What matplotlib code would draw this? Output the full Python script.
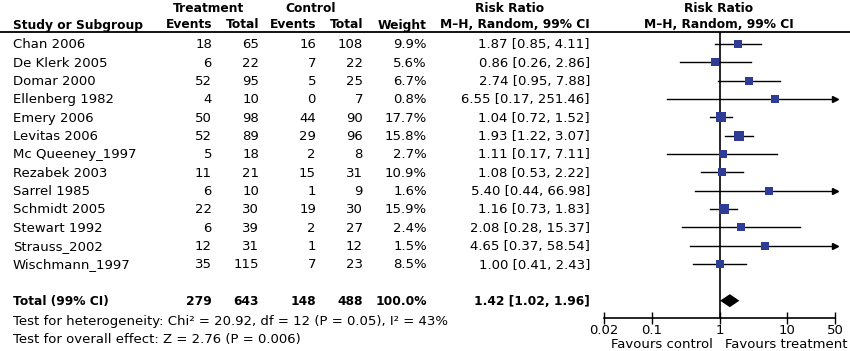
import numpy as np
import matplotlib
matplotlib.use("Agg")
import matplotlib.pyplot as plt

#######################################
# Data
#######################################
studies = ["Chan 2006", "De Klerk 2005", "Domar 2000", "Ellenberg 1982", "Emery 2006",
           "Levitas 2006", "Mc Queeney_1997", "Rezabek 2003", "Sarrel 1985",
           "Schmidt 2005", "Stewart 1992", "Strauss_2002", "Wischmann_1997"]
trt_events = [18, 6, 52, 4, 50, 52, 5, 11, 6, 22, 6, 12, 35]
trt_total = [65, 22, 95, 10, 98, 89, 18, 21, 10, 30, 39, 31, 115]
ctl_events = [16, 7, 5, 0, 44, 29, 2, 15, 1, 19, 2, 1, 7]
ctl_total = [108, 22, 25, 7, 90, 96, 8, 31, 9, 30, 27, 12, 23]
weights = [9.9, 5.6, 6.7, 0.8, 17.7, 15.8, 2.7, 10.9, 1.6, 15.9, 2.4, 1.5, 8.5]
rr = [1.87, 0.86, 2.74, 6.55, 1.04, 1.93, 1.11, 1.08, 5.40, 1.16, 2.08, 4.65, 1.00]
ci_lo = [0.85, 0.26, 0.95, 0.17, 0.72, 1.22, 0.17, 0.53, 0.44, 0.73, 0.28, 0.37, 0.41]
ci_hi = [4.11, 2.86, 7.88, 251.46, 1.52, 3.07, 7.11, 2.22, 66.98, 1.83, 15.37, 58.54, 2.43]

total_counts = [279, 643, 148, 488]
total_weight = "100.0%"
total_rr, total_lo, total_hi = 1.42, 1.02, 1.96

het_text = "Test for heterogeneity: Chi\u00b2 = 20.92, df = 12 (P = 0.05), I\u00b2 = 43%"
effect_text = "Test for overall effect: Z = 2.76 (P = 0.006)"

xticks = [0.02, 0.1, 1, 10, 50]
xtick_labels = ["0.02", "0.1", "1", "10", "50"]
x_min, x_max = 0.02, 50

#######################################
# Layout (pixel coordinates)
#######################################
W, H = 850, 351
row_y0, row_h = 43.8, 18.35
line_y = 32
axis_y = 318
fs = 9.5
fs_b = 8.8
blue = "#2E3C96"

plt.rcParams["font.family"] = ["DejaVu Sans"]

fig = plt.figure(figsize=(W / 100, H / 100), dpi=100)
ax = fig.add_axes([0, 0, 1, 1])
ax.set_xlim(0, W)
ax.set_ylim(H, 0)
ax.axis("off")

def txt(x, y, s, ha="left", bold=False):
    ax.text(x, y, s, ha=ha, va="center", fontsize=fs_b if bold else fs,
            fontweight="bold" if bold else "normal", color="black")

# Header
txt(209, 8, "Treatment", ha="center", bold=True)
txt(311, 8, "Control", ha="center", bold=True)
txt(510, 8, "Risk Ratio", ha="center", bold=True)
txt(719, 8, "Risk Ratio", ha="center", bold=True)
txt(13, 25, "Study or Subgroup", bold=True)
for x, s in zip([212, 259, 316, 363, 427], ["Events", "Total", "Events", "Total", "Weight"]):
    txt(x, 25, s, ha="right", bold=True)
txt(590, 25, "M\u2013H, Random, 99% CI", ha="right", bold=True)
txt(719, 25, "M\u2013H, Random, 99% CI", ha="center", bold=True)
ax.plot([0, W], [line_y, line_y], color="black", lw=1.3)

col_x = [212, 259, 316, 363]
row_ys = [row_y0 + i * row_h for i in range(len(studies))]
for i, name in enumerate(studies):
    y = row_ys[i] + 1
    txt(13, y, name)
    for x, v in zip(col_x, [trt_events[i], trt_total[i], ctl_events[i], ctl_total[i]]):
        txt(x, y, str(v), ha="right")
    txt(427, y, f"{weights[i]:.1f}%", ha="right")
    txt(590, y, f"{rr[i]:.2f} [{ci_lo[i]:.2f}, {ci_hi[i]:.2f}]", ha="right")

total_y = row_y0 + 14 * row_h
txt(13, total_y + 1, "Total (99% CI)", bold=True)
for x, v in zip(col_x, total_counts):
    txt(x, total_y + 1, str(v), ha="right", bold=True)
txt(427, total_y + 1, total_weight, ha="right", bold=True)
txt(590, total_y + 1, f"{total_rr:.2f} [{total_lo:.2f}, {total_hi:.2f}]", ha="right", bold=True)
txt(13, 321, het_text)
txt(13, 339, effect_text)

#######################################
# Forest plot
#######################################
left_px, right_px = 604, 835
axf = fig.add_axes([left_px / W, 1 - axis_y / H, (right_px - left_px) / W, (axis_y - line_y) / H])
axf.set_xscale("log")
axf.set_xlim(x_min, x_max)
axf.set_ylim(axis_y, line_y)
axf.patch.set_alpha(0)
for s in ["top", "right", "left"]:
    axf.spines[s].set_visible(False)
axf.spines["bottom"].set_linewidth(1.2)
axf.axvline(1, color="black", lw=1.2, zorder=1)

for i in range(len(studies)):
    y = row_ys[i]
    lo = max(ci_lo[i], x_min)
    hi = min(ci_hi[i], x_max)
    axf.plot([lo, hi], [y, y], color="black", lw=1.0, zorder=2, clip_on=False)
    if ci_hi[i] > x_max:
        axf.plot([x_max], [y], marker=">", color="black", markersize=5, zorder=2, clip_on=False)
    side_px = 7 + 3 * weights[i] / max(weights)
    axf.plot([rr[i]], [y], marker="s", color=blue, markersize=side_px * 0.72,
             markeredgewidth=0, zorder=3)

dh = 6.5
axf.fill([total_lo, total_rr, total_hi, total_rr],
         [total_y, total_y - dh, total_y, total_y + dh], color="black", zorder=3, lw=0)

axf.set_yticks([])
axf.set_xticks(xticks)
axf.set_xticklabels(xtick_labels, fontsize=fs)
axf.minorticks_off()
axf.tick_params(axis="x", direction="inout", length=9, width=1.0, pad=0)

ax.text(713, 345, "Favours control", ha="right", va="center", fontsize=fs)
ax.text(725, 345, "Favours treatment", ha="left", va="center", fontsize=fs)

fig.savefig("out.png", dpi=100)
